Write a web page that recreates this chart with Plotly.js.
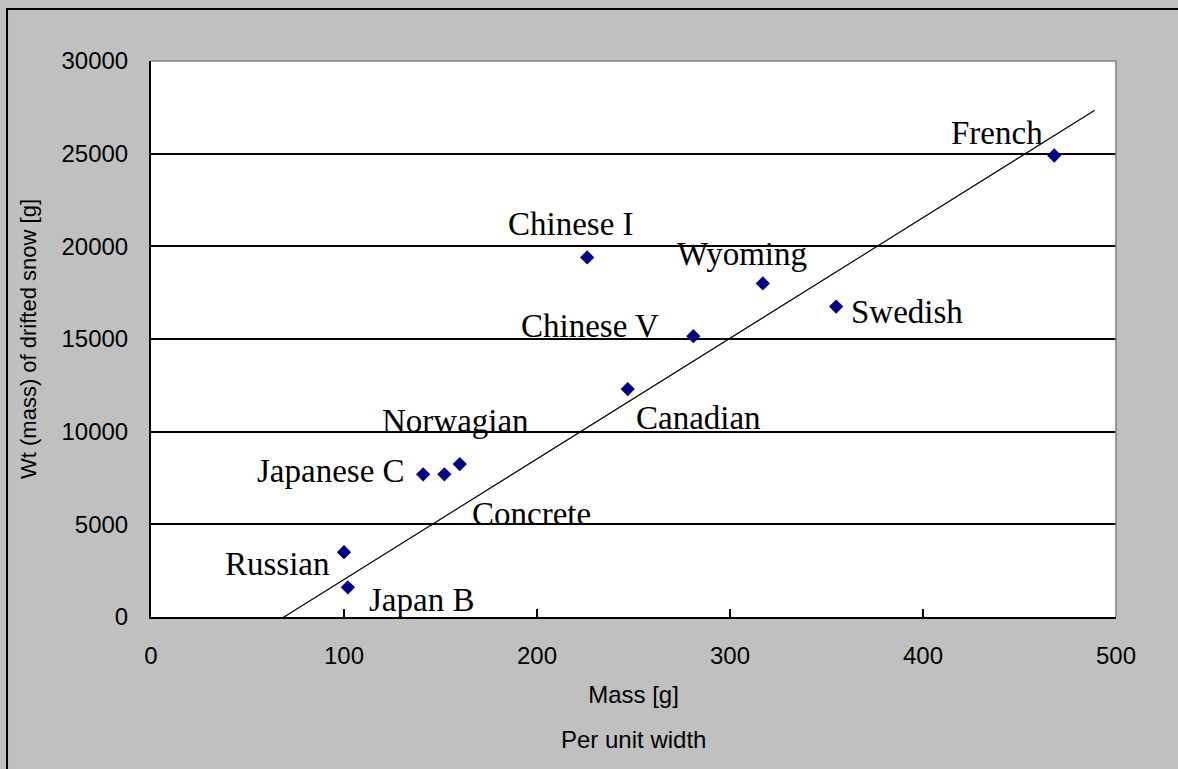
<!DOCTYPE html>
<html>
<head>
<meta charset="utf-8">
<script src="https://cdn.plot.ly/plotly-3.0.1.min.js"></script>
<style>html,body{margin:0;padding:0;background:#c0c0c0;}#chart{width:1178px;height:769px;}</style>
</head>
<body>
<div id="chart"></div>
<script>
// Data
var names   = ['Russian', 'Japan B', 'Japanese C', 'Concrete', 'Norwagian', 'Canadian', 'Chinese I', 'Chinese V', 'Wyoming', 'Swedish', 'French'];
var massG   = [100, 102, 141, 152, 160, 247, 226, 281, 317, 355, 468];
var wtSnowG = [3500, 1600, 7700, 7700, 8250, 12300, 19400, 15150, 18000, 16750, 24900];
// Trend line end points
var trendX = [60.6, 489];
var trendY = [-540, 27340];
var xTicks = [0, 100, 200, 300, 400, 500];
var yTicks = [0, 5000, 10000, 15000, 20000, 25000, 30000];

// Label offsets in pixels (style)
var labelShiftX = [-67, 74, -92, 87, -4, 71, -16, -103, -21, 71, -57];
var labelShiftY = [-12, -13, 3, -40, 43, -29, 33, 10, 29, -5, 23];

var annotations = names.map(function (n, i) {
  return {
    x: massG[i], y: wtSnowG[i], xref: 'x', yref: 'y',
    text: n, showarrow: false,
    xshift: labelShiftX[i], yshift: labelShiftY[i],
    font: {family: 'Liberation Serif, Times New Roman, serif', size: 33, color: '#000'}
  };
});
annotations.push({
  xref: 'paper', yref: 'paper', x: 0.5, y: -0.22, yanchor: 'middle',
  text: 'Per unit width', showarrow: false,
  font: {family: 'Liberation Sans, Arial, sans-serif', size: 24, color: '#000'}
});

var traces = [
  {
    x: trendX, y: trendY, mode: 'lines', type: 'scatter',
    line: {color: '#000', width: 1.2}, hoverinfo: 'skip', showlegend: false
  },
  {
    x: massG, y: wtSnowG, text: names, mode: 'markers', type: 'scatter',
    marker: {symbol: 'diamond', size: 11, color: '#000080'}, showlegend: false
  }
];

var tickFont = {family: 'Liberation Sans, Arial, sans-serif', size: 24, color: '#000'};

var layout = {
  width: 1178, height: 769,
  paper_bgcolor: '#c0c0c0', plot_bgcolor: '#ffffff',
  margin: {l: 151, r: 62, t: 61, b: 152},
  showlegend: false,
  xaxis: {
    range: [0, 500], tickvals: xTicks, ticktext: xTicks.map(String),
    showgrid: false, zeroline: false, showline: true, linecolor: '#000', linewidth: 2,
    ticks: 'inside', ticklen: 8, tickcolor: '#000', tickwidth: 1.5,
    tickfont: tickFont, ticklabelstandoff: 16,
    title: {text: 'Mass [g]', font: tickFont, standoff: 18}
  },
  yaxis: {
    range: [0, 30000], tickvals: yTicks, ticktext: yTicks.map(String),
    showgrid: true, gridcolor: '#000', gridwidth: 2,
    zeroline: false, showline: true, linecolor: '#000', linewidth: 2,
    ticks: 'inside', ticklen: 7, tickcolor: '#000', tickwidth: 1.5,
    tickfont: tickFont, ticklabelstandoff: 16,
    title: {text: 'Wt (mass) of drifted snow [g]', font: {family: 'Liberation Sans, Arial, sans-serif', size: 22, color: '#000'}, standoff: 19}
  },
  shapes: [
    {type: 'path', xref: 'paper', yref: 'paper', path: 'M 0 1 L 1 1 L 1 0', line: {color: '#808080', width: 1.5}, layer: 'above'},
    {type: 'path', xref: 'paper', yref: 'paper', path: 'M -0.1492 -0.5 L -0.1492 1.0935 L 1.5 1.0935', line: {color: '#000', width: 2}}
  ],
  annotations: annotations
};

Plotly.newPlot('chart', traces, layout, {displayModeBar: false, staticPlot: true});
</script>
</body>
</html>
